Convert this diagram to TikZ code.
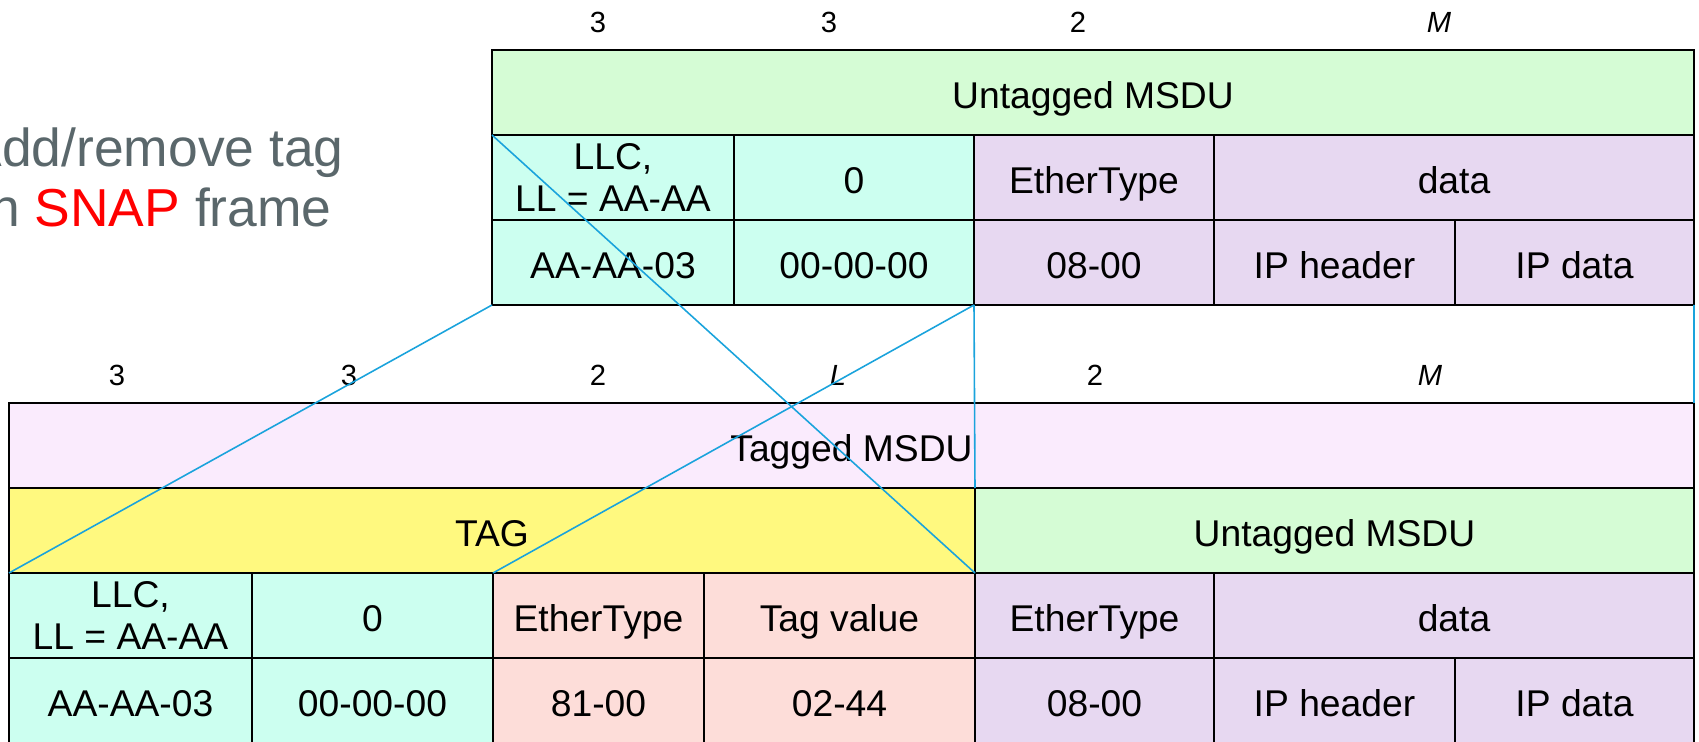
\documentclass[tikz,border=0pt]{standalone}
\usepackage{fontspec}
\setmainfont{Liberation Sans}
\definecolor{msdugreen}{HTML}{D5FCD5}
\definecolor{llccyan}{HTML}{CCFFF0}
\definecolor{ethpurple}{HTML}{E7D8F1}
\definecolor{taglav}{HTML}{FAEBFD}
\definecolor{tagyellow}{HTML}{FFF97F}
\definecolor{tagsalmon}{HTML}{FDDDD9}
\definecolor{linkblue}{HTML}{1AA3DC}
\definecolor{notegrey}{HTML}{5A676B}
\tikzset{
	box/.style={draw=black, line width=0.5pt, fill=#1, anchor=north west, inner sep=0pt, outer sep=0pt,
		minimum height=0.85cm, align=center, font=\fontsize{10.6}{12}\selectfont},
	cell/.style={box=#1, text height=9pt, text depth=0pt},
	bytes/.style={inner sep=0pt, font=\fontsize{8.3}{10}\selectfont},
	link/.style={draw=linkblue, line width=0.45pt}
}

\begin{document}
\begin{tikzpicture}[x=1cm, y=-1cm]
				\useasboundingbox (0,0) rectangle (16.99,7.42);
				\clip (0,0) rectangle (16.99,7.42);
				
				\node[text=notegrey, align=center, inner sep=0pt, font=\fontsize{15.2}{17}\selectfont] (note) at (1.55,1.771) {Add/remove tag\\in \textcolor{red}{SNAP} frame};
				
				\node[bytes] (uB1) at (5.98,0.22) {3};
				\node[bytes] (uB2) at (8.29,0.22) {3};
				\node[bytes] (uB3) at (10.78,0.22) {2};
				\node[bytes] (uB4) at (14.39,0.22) {\textit{M}};
				
				\node[cell=msdugreen, minimum width=12.02cm] (uMSDU) at (4.92,0.50) {Untagged MSDU};
				\node[box=llccyan, minimum width=2.42cm] (uLLC) at (4.92,1.35) {LLC,\\LL = AA-AA};
				\node[cell=llccyan, minimum width=2.40cm] (uZero) at (7.34,1.35) {0};
				\node[cell=ethpurple, minimum width=2.40cm] (uEth) at (9.74,1.35) {EtherType};
				\node[cell=ethpurple, minimum width=4.80cm] (uData) at (12.14,1.35) {data};
				\node[cell=llccyan, minimum width=2.42cm] (uDsap) at (4.92,2.20) {AA-AA-03};
				\node[cell=llccyan, minimum width=2.40cm] (uOui) at (7.34,2.20) {00-00-00};
				\node[cell=ethpurple, minimum width=2.40cm] (uType) at (9.74,2.20) {08-00};
				\node[cell=ethpurple, minimum width=2.41cm] (uIPh) at (12.14,2.20) {IP header};
				\node[cell=ethpurple, minimum width=2.39cm] (uIPd) at (14.55,2.20) {IP data};
				
				\node[bytes] (tB1) at (1.17,3.75) {3};
				\node[bytes] (tB2) at (3.49,3.75) {3};
				\node[bytes] (tB3) at (5.98,3.75) {2};
				\node[bytes] (tB4) at (8.38,3.75) {\textit{L}};
				\node[bytes] (tB5) at (10.95,3.75) {2};
				\node[bytes] (tB6) at (14.30,3.75) {\textit{M}};
				
				\node[cell=taglav, minimum width=16.85cm] (tMSDU) at (0.09,4.03) {Tagged MSDU};
				\node[cell=tagyellow, minimum width=9.66cm] (tTag) at (0.09,4.88) {TAG};
				\node[cell=msdugreen, minimum width=7.19cm] (tUntag) at (9.75,4.88) {Untagged MSDU};
				\node[box=llccyan, minimum width=2.43cm] (tLLC) at (0.09,5.73) {LLC,\\LL = AA-AA};
				\node[cell=llccyan, minimum width=2.41cm] (tZero) at (2.52,5.73) {0};
				\node[cell=tagsalmon, minimum width=2.11cm] (tEth) at (4.93,5.73) {EtherType};
				\node[cell=tagsalmon, minimum width=2.71cm] (tVal) at (7.04,5.73) {Tag value};
				\node[cell=ethpurple, minimum width=2.39cm] (tEth2) at (9.75,5.73) {EtherType};
				\node[cell=ethpurple, minimum width=4.80cm] (tData) at (12.14,5.73) {data};
				\node[cell=llccyan, minimum width=2.43cm] (tDsap) at (0.09,6.58) {AA-AA-03};
				\node[cell=llccyan, minimum width=2.41cm] (tOui) at (2.52,6.58) {00-00-00};
				\node[cell=tagsalmon, minimum width=2.11cm] (tTpid) at (4.93,6.58) {81-00};
				\node[cell=tagsalmon, minimum width=2.71cm] (tTci) at (7.04,6.58) {02-44};
				\node[cell=ethpurple, minimum width=2.39cm] (tType) at (9.75,6.58) {08-00};
				\node[cell=ethpurple, minimum width=2.41cm] (tIPh) at (12.14,6.58) {IP header};
				\node[cell=ethpurple, minimum width=2.39cm] (tIPd) at (14.55,6.58) {IP data};
				
				\draw[link] (uLLC.north west) -- (tTag.south east);
				\draw[link] (uDsap.south west) -- (tLLC.north west);
				\draw[link] (uType.south west) -- (tEth.north west);
				\draw[link] (uType.south west) -- (tUntag.north west);
				\draw[link] (uIPd.south east) -- (tMSDU.north east);
			\end{tikzpicture}
\end{document}
